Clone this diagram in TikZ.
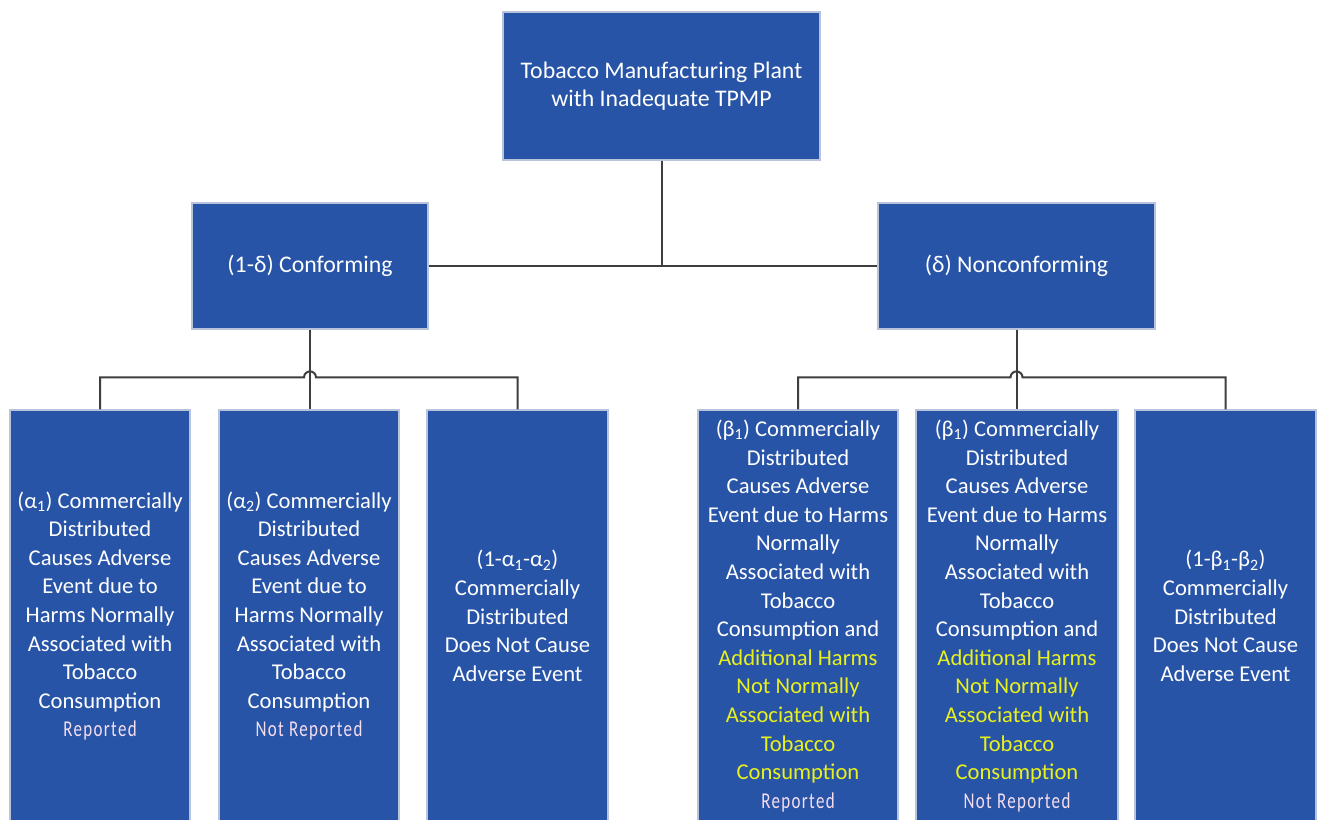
\documentclass[tikz,border=0pt]{standalone}
\usepackage{fontspec}
\setmainfont{Carlito}
\usepackage{xcolor}
\usetikzlibrary{positioning, calc}
\definecolor{boxblue}{RGB}{40, 84, 168}
\definecolor{boxedge}{RGB}{185, 196, 218}
\definecolor{linkgrey}{RGB}{62, 62, 62}
\definecolor{harmyellow}{RGB}{232, 240, 30}
\definecolor{reppink}{RGB}{245, 222, 238}
\newcommand{\yl}[1]{\textcolor{harmyellow}{#1}}
\newcommand{\rep}[1]{{\color{reppink}\addfontfeature{FakeStretch=0.75, LetterSpace=6}#1}}
\tikzset{
  box/.style={draw=boxedge, fill=boxblue, line width=1.2pt, text=white,
    align=center, inner sep=0pt, font=\fontsize{22.6}{28.6}\selectfont},
  head/.style={box, font=\fontsize{23.8}{28.6}\selectfont},
  leaf/.style={box, minimum height=412pt},
  link/.style={draw=linkgrey, line width=2pt}
}
\begin{document}
\begin{tikzpicture}[x=1pt, y=-1pt]
        \useasboundingbox (0,0) rectangle (1319,819);
        \fill[white] (0,0) rectangle (1319,819);
        \clip (0,0) rectangle (1319,819);

        % Plant and its two outcomes
        \node[head, minimum width=317pt, minimum height=148pt] (plant) at (661.5,86)
          {Tobacco Manufacturing Plant\\with Inadequate TPMP};
        \node[head, minimum width=236pt, minimum height=126pt] (conf) at (310,266)
          {(1-δ) Conforming};
        \node[head, minimum width=277pt, minimum height=126pt] (nonconf) at (1016.5,266)
          {(δ) Nonconforming};

        % Conforming branches
        \node[leaf, minimum width=180pt] (a1) at (100,616)
          {(α\textsubscript{1}) Commercially\\Distributed\\Causes Adverse\\Event due to\\Harms Normally\\Associated with\\Tobacco\\Consumption\\\rep{Reported}};
        \node[leaf, minimum width=180pt] (a2) at (309,616)
          {(α\textsubscript{2}) Commercially\\Distributed\\Causes Adverse\\Event due to\\Harms Normally\\Associated with\\Tobacco\\Consumption\\\rep{Not Reported}};
        \node[leaf, minimum width=181pt] (a0) at (517.5,616)
          {(1-α\textsubscript{1}-α\textsubscript{2})\\Commercially\\Distributed\\Does Not Cause\\Adverse Event};

        % Nonconforming branches
        \node[leaf, minimum width=200pt] (b1) at (798,616)
          {(β\textsubscript{1}) Commercially\\Distributed\\Causes Adverse\\Event due to Harms\\Normally\\Associated with\\Tobacco\\Consumption and\\\yl{Additional Harms}\\\yl{Not Normally}\\\yl{Associated with}\\\yl{Tobacco}\\\yl{Consumption}\\\rep{Reported}};
        \node[leaf, minimum width=202pt] (b2) at (1017,616)
          {(β\textsubscript{1}) Commercially\\Distributed\\Causes Adverse\\Event due to Harms\\Normally\\Associated with\\Tobacco\\Consumption and\\\yl{Additional Harms}\\\yl{Not Normally}\\\yl{Associated with}\\\yl{Tobacco}\\\yl{Consumption}\\\rep{Not Reported}};
        \node[leaf, minimum width=181pt] (b0) at (1225.5,616)
          {(1-β\textsubscript{1}-β\textsubscript{2})\\Commercially\\Distributed\\Does Not Cause\\Adverse Event};

        % Connectors
        \draw[link] (plant.south) -- (plant.south |- conf.east);
        \draw[link] (conf.east) -- (nonconf.west);
        \draw[link] (conf.south) -- (conf.south |- a2.north);
        \draw[link] (nonconf.south) -- (nonconf.south |- b2.north);
        \draw[link] (a1.north) |- ($(conf.south |- a2.north)+(-6,-32)$)
          arc[start angle=180, end angle=0, radius=6pt] -| (a0.north);
        \draw[link] (b1.north) |- ($(nonconf.south |- b2.north)+(-6,-32)$)
          arc[start angle=180, end angle=0, radius=6pt] -| (b0.north);
      \end{tikzpicture}
\end{document}
